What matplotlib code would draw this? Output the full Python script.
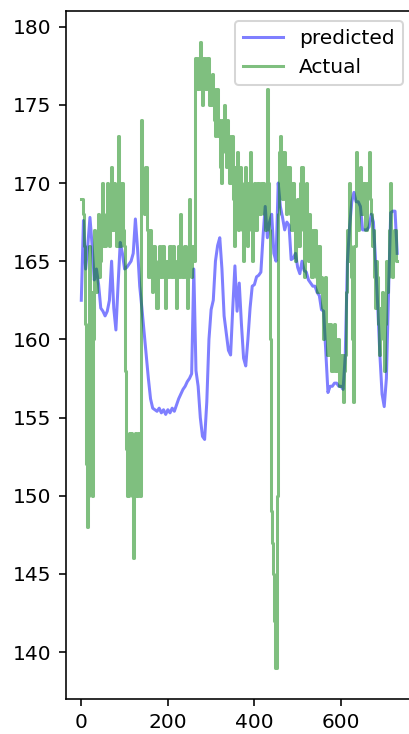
from matplotlib import pyplot as plt
import numpy as np

# sample index: predicted every 5th step, actual every 2.5
x_pred = np.arange(0, 735, 5)
x_act = np.arange(0, 732.5, 2.5)

predicted = [162.5, 167.6, 164.5, 166.0, 167.8, 166.0, 163.8, 164.5, 163.5, 162.0,
             161.8, 161.5, 161.8, 162.5, 165.0, 162.0, 160.6, 163.5, 166.2, 165.5,
             164.5, 164.6, 164.8, 165.0, 165.5, 167.7, 165.8, 163.4, 162.0, 160.5,
             159.0, 157.5, 156.2, 155.6, 155.5, 155.4, 155.6, 155.3, 155.5, 155.2,
             155.5, 155.3, 155.6, 155.4, 155.8, 156.2, 156.5, 156.8, 157.0, 157.3,
             157.5, 157.8, 164.5, 158.0, 157.0, 155.0, 153.8, 153.6, 156.0, 160.0,
             161.9, 162.5, 165.0, 166.0, 166.5, 164.5, 161.5, 160.4, 159.3, 159.0,
             162.0, 164.7, 161.8, 163.6, 161.0, 158.8, 158.3, 160.0, 162.0, 163.4,
             163.5, 164.0, 164.1, 164.3, 166.6, 168.5, 166.5, 167.5, 168.0, 165.5,
             165.0, 170.0, 168.5, 167.8, 167.0, 167.5, 167.3, 165.1, 165.2, 165.5,
             164.6, 164.2, 165.0, 164.4, 164.3, 163.8, 163.6, 163.4, 163.4, 163.0,
             162.8, 161.9, 161.8, 159.2, 156.6, 157.0, 157.0, 157.2, 157.2, 157.0,
             157.0, 156.8, 159.0, 165.0, 167.2, 168.8, 169.4, 168.8, 168.8, 168.5,
             167.0, 167.0, 167.0, 167.2, 168.0, 167.5, 165.0, 162.1, 159.0, 156.5,
             155.7, 157.5, 163.0, 168.1, 168.2, 168.2, 165.5]

actual = [169, 169, 168, 166, 161, 152, 148, 150, 166, 163, 150, 160,
          167, 164, 163, 166, 168, 164, 165, 167, 170, 166, 166, 168,
          170, 167, 166, 169, 171, 167, 167, 170, 169, 166, 173, 168,
          166, 170, 170, 167, 166, 158, 153, 150, 150, 154, 154, 150,
          146, 152, 154, 150, 150, 154, 153, 150, 174, 170, 168, 171,
          171, 167, 164, 167, 167, 164, 163, 166, 166, 164, 162, 165,
          166, 164, 164, 166, 166, 164, 162, 165, 165, 164, 166, 164,
          164, 166, 165, 164, 162, 165, 166, 164, 168, 165, 164, 166,
          166, 164, 162, 165, 169, 165, 164, 166, 166, 165, 178, 176,
          176, 178, 179, 176, 175, 178, 178, 176, 176, 178, 178, 175,
          175, 177, 176, 174, 173, 176, 176, 173, 174, 171, 170, 174,
          175, 172, 171, 174, 173, 170, 170, 173, 173, 169, 166, 171,
          172, 167, 168, 171, 170, 167, 165, 169, 171, 167, 166, 170,
          172, 167, 165, 169, 170, 167, 167, 170, 170, 168, 168, 170,
          170, 168, 167, 169, 176, 170, 167, 160, 149, 147, 145, 142,
          139, 150, 168, 172, 173, 170, 169, 172, 172, 169, 168, 171,
          171, 168, 167, 170, 170, 167, 165, 168, 169, 166, 166, 170,
          171, 167, 164, 168, 170, 166, 165, 168, 167, 164, 164, 167,
          167, 164, 163, 166, 166, 163, 164, 162, 160, 163, 164, 161,
          159, 161, 161, 158, 158, 160, 161, 158, 158, 160, 160, 157,
          157, 159, 156, 158, 159, 163, 167, 165, 170, 166, 164, 160,
          156, 166, 172, 169, 167, 170, 171, 168, 168, 170, 170, 167,
          167, 170, 172, 169, 168, 166, 167, 164, 162, 165, 164, 161,
          159, 162, 163, 160, 158, 161, 165, 163, 164, 167, 170, 166,
          164, 166, 167, 165, 165]

fig = plt.figure(figsize=(409 / 145, 734 / 145), dpi=145)
ax = fig.add_axes([65.5 / 409, 35 / 734, 347.5 / 409, 688 / 734])

ax.plot(x_pred, predicted, color='b', alpha=0.5, label='predicted')
ax.plot(x_act, actual, color='g', alpha=0.5, drawstyle='steps-mid', label='Actual')
ax.set_yticks(range(140, 181, 5))
ax.set_xticks([0, 200, 400, 600])
ax.legend(loc='upper right')

fig.savefig('out.png', dpi=145)
